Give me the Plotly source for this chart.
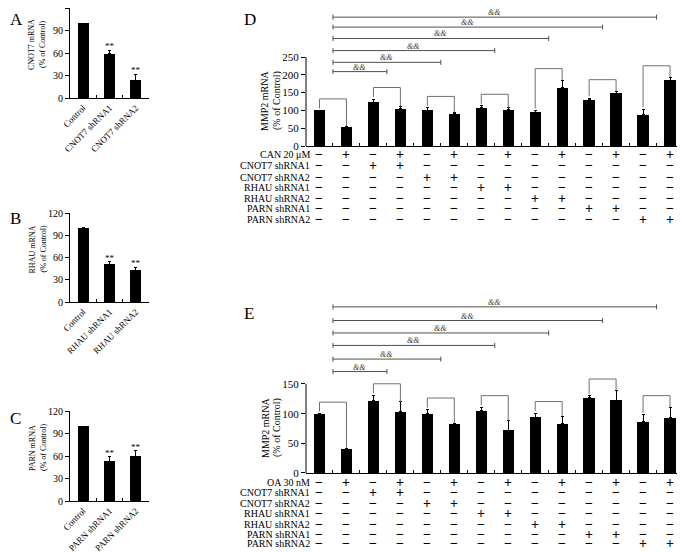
import plotly.graph_objects as go

W, H = 685, 552
OFF = 8  # page body margin
FONT = "Liberation Serif, Times New Roman, serif"

# ---------------- data ----------------
A_cats = ["Control", "CNOT7 shRNA1", "CNOT7 shRNA2"]
A_vals = [100, 59, 24]
A_err = [0, 5, 8]
B_cats = ["Control", "RHAU shRNA1", "RHAU shRNA2"]
B_vals = [100, 51, 43]
B_err = [0, 3, 4]
C_cats = ["Control", "PARN shRNA1", "PARN shRNA2"]
C_vals = [100, 53, 60]
C_err = [0, 6, 7]
ABC_sig = ["", "**", "**"]
ABC_titles = ["CNOT7 mRNA", "RHAU mRNA", "PARN mRNA"]

D_vals = [100, 52, 123, 104, 101, 91, 107, 102, 95, 164, 130, 148, 88, 185]
D_err = [0, 4, 9, 7, 6, 3, 6, 5, 5, 21, 4, 6, 15, 8]
E_vals = [100, 40, 122, 103, 100, 82, 105, 72, 94, 83, 127, 123, 87, 93]
E_err = [0, 2, 9, 17, 7, 2, 6, 16, 7, 13, 3, 16, 11, 18]

D_rows = ["CAN 20 \u03bcM", "CNOT7 shRNA1", "CNOT7 shRNA2", "RHAU shRNA1",
          "RHAU shRNA2", "PARN shRNA1", "PARN shRNA2"]
E_rows = ["OA 30 nM", "CNOT7 shRNA1", "CNOT7 shRNA2", "RHAU shRNA1",
          "RHAU shRNA2", "PARN shRNA1", "PARN shRNA2"]
treat = [
    [0, 1, 0, 1, 0, 1, 0, 1, 0, 1, 0, 1, 0, 1],
    [0, 0, 1, 1, 0, 0, 0, 0, 0, 0, 0, 0, 0, 0],
    [0, 0, 0, 0, 1, 1, 0, 0, 0, 0, 0, 0, 0, 0],
    [0, 0, 0, 0, 0, 0, 1, 1, 0, 0, 0, 0, 0, 0],
    [0, 0, 0, 0, 0, 0, 0, 0, 1, 1, 0, 0, 0, 0],
    [0, 0, 0, 0, 0, 0, 0, 0, 0, 0, 1, 1, 0, 0],
    [0, 0, 0, 0, 0, 0, 0, 0, 0, 0, 0, 0, 1, 1],
]
D_amp_levels = [209, 235, 268, 302, 334, 362]
E_amp_levels = [171, 192, 215, 236, 257, 280]


def px(x):
    return (x - OFF) / W


def py(y):
    return 1 - (y - OFF) / H


fig = go.Figure()
shapes = []
annos = []

# ---------------- panels A-C ----------------
small = [
    ("A", A_cats, A_vals, A_err, 8, 98, "", "", 5),
    ("B", B_cats, B_vals, B_err, 213, 302, "2", "2", 210),
    ("C", C_cats, C_vals, C_err, 411, 501, "3", "3", 410),
]
for i, (letter, cats, vals, err, ytop, ybot, xs, ys, ltop) in enumerate(small):
    fig.add_trace(go.Bar(
        x=cats, y=vals, xaxis="x" + xs, yaxis="y" + ys,
        marker=dict(color="black", line=dict(width=0)), width=0.42,
        error_y=dict(type="data", symmetric=False, array=err,
                     arrayminus=[0] * len(err), color="black",
                     thickness=1, width=1.5),
        showlegend=False, hoverinfo="skip"))
    fig.update_layout(**{
        "xaxis" + xs: dict(domain=[px(70), px(149)], anchor="y" + ys,
                           type="category", tickson="boundaries",
                           ticks="inside", ticklen=3, tickcolor="black",
                           showline=True, linecolor="black", linewidth=1,
                           tickangle=-45, tickfont=dict(size=9, color="black"),
                           showgrid=False, zeroline=False),
        "yaxis" + ys: dict(domain=[py(ybot), min(1, py(ytop))], anchor="x" + xs,
                           range=[0, 120], tickvals=[0, 30, 60, 90, 120],
                           ticks="outside", ticklen=4, tickcolor="black",
                           showline=True, linecolor="black", linewidth=1,
                           tickfont=dict(size=10, color="black"),
                           showgrid=False, zeroline=False),
    })
    for c, v, e, s in zip(cats, vals, err, ABC_sig):
        if s:
            annos.append(dict(x=c, y=v + e, xref="x" + xs, yref="y" + ys,
                              text=s, showarrow=False, yanchor="bottom",
                              yshift=-3, font=dict(size=9, color="black")))
    ymid = (ytop + ybot) / 2 - 8
    annos.append(dict(x=px(32), y=py(ymid), xref="paper", yref="paper",
                      text=ABC_titles[i], textangle=-90, showarrow=False,
                      xanchor="center", yanchor="middle",
                      font=dict(size=8, color="black")))
    annos.append(dict(x=px(43), y=py(ymid), xref="paper", yref="paper",
                      text="(% of Control)", textangle=-90, showarrow=False,
                      xanchor="center", yanchor="middle",
                      font=dict(size=8, color="black")))
    annos.append(dict(x=px(8), y=min(1, py(ltop - 3)), xref="paper", yref="paper",
                      text=letter, showarrow=False, xanchor="left",
                      yanchor="top", font=dict(size=17, color="black")))

# ---------------- panels D-E ----------------
big = [
    ("D", D_vals, D_err, D_rows, D_amp_levels, 146, 0.356, 250,
     [0, 50, 100, 150, 200, 250], "4",
     [155, 166, 177, 187, 198, 209, 219], 101, 5),
    ("E", E_vals, E_err, E_rows, E_amp_levels, 473, 89 / 150, 150,
     [0, 50, 100, 150], "5",
     [482, 492.5, 503, 513.5, 524, 534, 543.5], 428, 305),
]
for (letter, vals, err, rows, amp_levels, y0px, ppu, yaxtop,
     tvals, k, rowy, titley, ltop) in big:
    n = len(vals)
    xs = list(range(n))
    fig.add_trace(go.Bar(
        x=xs, y=vals, xaxis="x" + k, yaxis="y" + k,
        marker=dict(color="black", line=dict(width=0)), width=0.42,
        error_y=dict(type="data", symmetric=False, array=err,
                     arrayminus=[0] * n, color="black", thickness=1, width=1.5),
        showlegend=False, hoverinfo="skip"))
    top_px = max(OFF, y0px - (max(amp_levels) + 20 / ppu) * ppu)
    ymax = (y0px - top_px) / ppu
    fig.update_layout(**{
        "xaxis" + k: dict(domain=[px(306), px(683.5)], anchor="y" + k,
                          range=[-0.5, n - 0.5],
                          tickvals=[j + 0.5 for j in range(n)],
                          showticklabels=False, ticks="inside", ticklen=3,
                          tickcolor="black", showline=True, linecolor="black",
                          linewidth=1, showgrid=False, zeroline=False),
        "yaxis" + k: dict(domain=[py(y0px), py(top_px)], anchor="x" + k,
                          range=[0, ymax], tickvals=tvals,
                          ticks="outside", ticklen=4, tickcolor="black",
                          showline=False, tickfont=dict(size=11, color="black"),
                          showgrid=False, zeroline=False),
    })
    # y axis line only up to last tick
    shapes.append(dict(type="line", xref="x" + k + " domain", yref="y" + k,
                       x0=0, x1=0, y0=0, y1=yaxtop,
                       line=dict(color="black", width=1)))
    # pair brackets
    off = 11.5 / ppu
    for p in range(n // 2):
        a, b = 2 * p, 2 * p + 1
        ta, tb = vals[a] + err[a], vals[b] + err[b]
        h = max(ta, tb) + off
        col = "#707070"
        shapes.append(dict(type="line", xref="x" + k, yref="y" + k,
                           x0=a, x1=b, y0=h, y1=h, line=dict(color=col, width=1)))
        shapes.append(dict(type="line", xref="x" + k, yref="y" + k,
                           x0=a, x1=a, y0=h, y1=ta + 2 / ppu,
                           line=dict(color=col, width=1)))
        shapes.append(dict(type="line", xref="x" + k, yref="y" + k,
                           x0=b, x1=b, y0=h, y1=tb,
                           line=dict(color=col, width=1)))
    # && comparison lines
    cap = 2.5 / ppu
    for q, lev in enumerate(amp_levels):
        xa, xb = 0.5, 2 * (q + 1) + 0.5
        col = "#505050"
        shapes.append(dict(type="line", xref="x" + k, yref="y" + k,
                           x0=xa, x1=xb, y0=lev, y1=lev,
                           line=dict(color=col, width=1)))
        for xx in (xa, xb):
            shapes.append(dict(type="line", xref="x" + k, yref="y" + k,
                               x0=xx, x1=xx, y0=lev - cap, y1=lev + cap,
                               line=dict(color=col, width=1)))
        annos.append(dict(x=(xa + xb) / 2, y=lev, xref="x" + k, yref="y" + k,
                          text="<i>&amp;&amp;</i>", showarrow=False,
                          yanchor="bottom", yshift=-1, borderpad=0,
                          font=dict(size=8, color="#333333")))
    # treatment table
    for r, lab in enumerate(rows):
        annos.append(dict(x=px(312), y=py(rowy[r]), xref="paper", yref="paper",
                          text=lab, showarrow=False, xanchor="right",
                          yanchor="middle", font=dict(size=10, color="black")))
        for j in range(n):
            annos.append(dict(x=j, y=py(rowy[r]), xref="x" + k, yref="paper",
                              text="<b>+</b>" if treat[r][j] else "<b>\u2212</b>",
                              showarrow=False, xanchor="center",
                              yanchor="middle", borderpad=0,
                              font=dict(size=14, color="black")))
    # y title
    annos.append(dict(x=px(265), y=py(titley), xref="paper", yref="paper",
                      text="MMP2 mRNA", textangle=-90, showarrow=False,
                      xanchor="center", yanchor="middle",
                      font=dict(size=10, color="black")))
    annos.append(dict(x=px(277), y=py(titley), xref="paper", yref="paper",
                      text="(% of Control)", textangle=-90, showarrow=False,
                      xanchor="center", yanchor="middle",
                      font=dict(size=10, color="black")))
    annos.append(dict(x=px(242), y=min(1, py(ltop - 3)), xref="paper",
                      yref="paper", text=letter, showarrow=False,
                      xanchor="left", yanchor="top",
                      font=dict(size=17, color="black")))

fig.update_layout(
    width=W, height=H, autosize=False,
    margin=dict(l=0, r=0, t=0, b=0, autoexpand=False),
    paper_bgcolor="white", plot_bgcolor="white",
    font=dict(family=FONT, color="black"),
    bargap=0, shapes=shapes, annotations=annos,
)
fig.write_html("out.html")
